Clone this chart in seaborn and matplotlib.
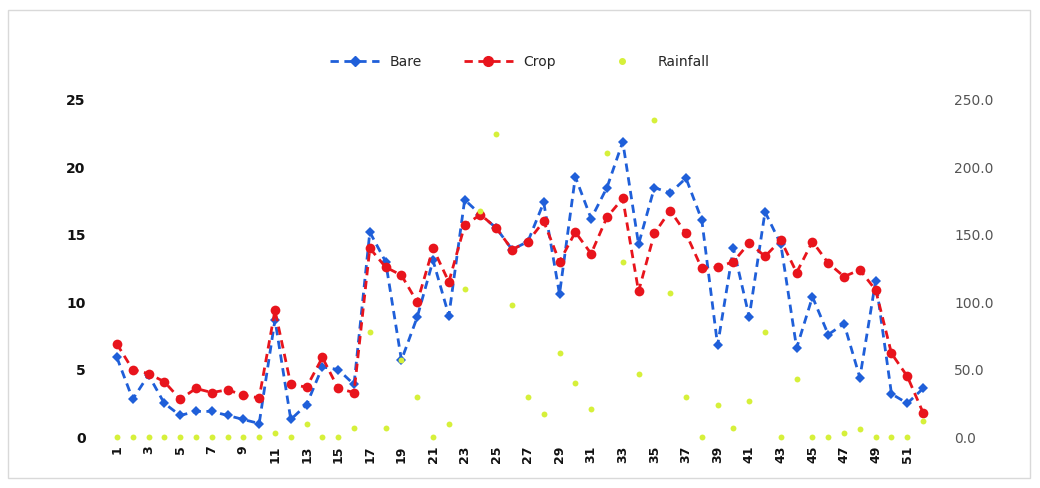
# weekly soil loss (Bare vs Crop) with rainfall on a second axis

import pandas as pd
import seaborn as sns
import matplotlib.pyplot as plt
from matplotlib.patches import Rectangle
from matplotlib.lines import Line2D

weeks = list(range(1, 53))

bare = [5.9, 2.8, 4.6, 2.5, 1.6, 1.9, 1.9, 1.6, 1.3, 1.0,
        8.7, 1.3, 2.4, 5.2, 5.0, 3.9, 15.2, 13.0, 5.7, 8.9,
        13.1, 9.0, 17.6, 16.5, 15.5, 13.9, 14.5, 17.4, 10.6, 19.3,
        16.2, 18.5, 21.9, 14.3, 18.5, 18.1, 19.2, 16.1, 6.8, 14.0,
        8.9, 16.7, 14.3, 6.6, 10.4, 7.6, 8.4, 4.4, 11.6, 3.2,
        2.5, 3.6]

crop = [6.9, 5.0, 4.7, 4.1, 2.8, 3.6, 3.3, 3.5, 3.1, 2.9,
        9.4, 3.9, 3.7, 5.9, 3.6, 3.3, 14.0, 12.6, 12.0, 10.0,
        14.0, 11.5, 15.7, 16.5, 15.5, 13.9, 14.5, 16.0, 13.0, 15.2,
        13.6, 16.3, 17.7, 10.8, 15.1, 16.8, 15.1, 12.5, 12.6, 13.0,
        14.4, 13.4, 14.6, 12.2, 14.5, 12.9, 11.9, 12.4, 10.9, 6.2,
        4.5, 1.8]

rainfall = [0, 0, 0, 0, 0, 0, 0, 0, 0, 0,
            3, 0, 10, 0, 0, 7, 78, 7, 57, 30,
            0, 10, 110, 168, 225, 98, 30, 17, 62, 40,
            21, 211, 130, 47, 235, 107, 30, 0, 24, 7,
            27, 78, 0, 43, 0, 0, 3, 6, 0, 0,
            0, 12]

left_ticks = [0, 5, 10, 15, 20, 25]
right_ticks = [0, 50, 100, 150, 200, 250]

df = pd.DataFrame({"week": weeks, "Bare": bare, "Crop": crop, "Rainfall": rainfall})

sns.set_theme(style="white")
plt.rcParams["font.family"] = ["DejaVu Sans"]

blue = "#1f5fd9"
red = "#e8141c"
green = "#d6f03a"

fig = plt.figure(figsize=(10.4, 4.88), dpi=100)
# light frame round the whole chart
fig.patches.append(Rectangle((0.008, 0.02), 0.982, 0.96, transform=fig.transFigure,
                             fill=False, edgecolor="#d9d9d9", linewidth=1))

ax = fig.add_axes([0.101, 0.1045, 0.798, 0.6906])
ax2 = ax.twinx()

sns.lineplot(data=df, x="week", y="Bare", ax=ax, color=blue, linestyle=(0, (3, 2)),
             linewidth=2, marker="D", markersize=5, markeredgewidth=0,
             clip_on=False)
sns.lineplot(data=df, x="week", y="Crop", ax=ax, color=red, linestyle=(0, (3, 2)),
             linewidth=2, marker="o", markersize=7, markeredgewidth=0,
             clip_on=False)
sns.scatterplot(data=df, x="week", y="Rainfall", ax=ax2, color=green, s=18,
                linewidth=0, clip_on=False, zorder=3)

ax.set_xlim(0.25, 52.75)
ax.set_ylim(0, 25)
ax2.set_ylim(0, 250)

ax.set_xticks(weeks[::2])
ax.set_xticklabels([str(w) for w in weeks[::2]], rotation=90, fontweight="bold",
                   fontsize=9, color="#111111")
ax.set_yticks(left_ticks)
ax.set_yticklabels([str(t) for t in left_ticks], fontweight="bold", fontsize=10,
                   color="#111111")
ax2.set_yticks(right_ticks)
ax2.set_yticklabels([f"{t:.1f}" for t in right_ticks], fontsize=10, color="#555555")

ax.tick_params(axis="x", length=0, pad=6)
ax.tick_params(axis="y", length=0, pad=14)
ax2.tick_params(axis="y", length=0, pad=14)
ax.set_xlabel("")
ax.set_ylabel("")
ax2.set_ylabel("")
for a in (ax, ax2):
    for s in a.spines.values():
        s.set_visible(False)
    a.grid(False)

handles = [
    Line2D([], [], color=blue, linestyle=(0, (3, 2)), linewidth=2, marker="D", markersize=5),
    Line2D([], [], color=red, linestyle=(0, (3, 2)), linewidth=2, marker="o", markersize=7),
    Line2D([], [], color=green, linestyle="none", marker="o", markersize=4),
]
fig.legend(handles, ["Bare", "Crop", "Rainfall"], loc="center", ncol=3,
           bbox_to_anchor=(0.5, 0.873), frameon=False, fontsize=10,
           columnspacing=3.0, handlelength=3.5)

plt.savefig("out.png", dpi=100)
